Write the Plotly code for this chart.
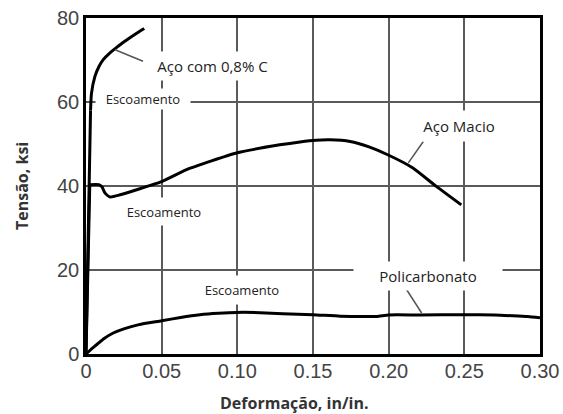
import plotly.graph_objects as go

# Stress-strain curves (strain in in/in., stress in ksi)
steel08_strain = [0, 0.003, 0.0036, 0.0059, 0.0085, 0.0114, 0.0155, 0.0203, 0.025, 0.029, 0.034, 0.0385]
steel08_stress = [0, 58.0, 62.0, 66.1, 68.4, 70.1, 71.6, 73.0, 74.3, 75.3, 76.5, 77.5]

mild_strain = [0, 0.0025, 0.0085, 0.0105, 0.0126, 0.0159, 0.0225, 0.0335, 0.049, 0.0665,
               0.1, 0.128, 0.1414, 0.152, 0.161, 0.1745, 0.187, 0.199, 0.216, 0.2315, 0.248]
mild_stress = [0, 40.3, 40.3, 39.8, 38.3, 37.4, 37.9, 39.1, 40.9, 43.9,
               47.9, 49.8, 50.5, 50.9, 51.0, 50.6, 49.3, 47.5, 44.3, 39.9, 35.5]

pc_strain = [0, 0.003, 0.007, 0.012, 0.018, 0.025, 0.035, 0.05, 0.0625, 0.0753, 0.0875, 0.0996,
             0.115, 0.13, 0.15, 0.168, 0.18, 0.192, 0.2, 0.22, 0.25, 0.27, 0.282, 0.292, 0.30]
pc_stress = [0, 1.0, 2.2, 3.7, 5.0, 6.0, 7.0, 7.9, 8.7, 9.35, 9.7, 9.9,
             9.85, 9.6, 9.35, 9.0, 8.95, 8.95, 9.3, 9.3, 9.35, 9.3, 9.1, 8.9, 8.6]

x_ticks = [0, 0.05, 0.10, 0.15, 0.20, 0.25, 0.30]
x_tick_labels = ["0", "0.05", "0.10", "0.15", "0.20", "0.25", "0.30"]
y_ticks = [0, 20, 40, 60, 80]
y_tick_labels = ["0", "20", "40", "60", "80"]

fig = go.Figure()


def add_curve(xs, ys, n_elastic):
    """Straight elastic segment followed by a smooth plastic segment."""
    if n_elastic:
        fig.add_trace(go.Scatter(x=xs[:n_elastic + 1], y=ys[:n_elastic + 1], mode="lines",
                                 line=dict(color="black", width=3),
                                 showlegend=False, hoverinfo="skip"))
    fig.add_trace(go.Scatter(x=xs[n_elastic:], y=ys[n_elastic:], mode="lines",
                             line=dict(color="black", width=3, shape="spline", smoothing=0.5),
                             showlegend=False, hoverinfo="skip"))


add_curve(steel08_strain, steel08_stress, 1)
add_curve(mild_strain, mild_stress, 1)
add_curve(pc_strain, pc_stress, 0)

main_font = dict(family="Open Sans", size=15, color="#222")
small_font = dict(family="Open Sans", size=13, color="#222")

# text labels on white boxes that interrupt the grid
labels = [
    ("Aço com 0,8% C", 0.0837, 68.6, 125, 28, main_font),
    ("Escoamento", 0.0375, 60.8, 94, 20, small_font),
    ("Escoamento", 0.0515, 33.9, 80, 27, small_font),
    ("Escoamento", 0.103, 15.3, 82, 28, small_font),
    ("Aço Macio", 0.2465, 54.3, 80, 30, main_font),
    ("Policarbonato", 0.226, 18.6, 148, 28, main_font),
]
for text, x, y, w, h, f in labels:
    fig.add_annotation(x=x, y=y, xref="x", yref="y", text=text, showarrow=False,
                       font=f, bgcolor="white", width=w, height=h,
                       borderpad=0, align="center", valign="middle")

# leader lines from labels to curves
leaders = [
    (0.0192, 72.45, 0.0377, 69.7),
    (0.2229, 50.6, 0.213, 45.5),
    (0.2119, 15.3, 0.2218, 9.76),
]
for x0, y0, x1, y1 in leaders:
    fig.add_shape(type="line", x0=x0, y0=y0, x1=x1, y1=y1, xref="x", yref="y",
                  line=dict(color="#555", width=1.5))

# axis titles
title_font = dict(family="Open Sans", size=16, color="#333")
fig.add_annotation(text="<b>Deformação, in/in.</b>", xref="paper", yref="paper",
                   x=0.46, y=0, yshift=-49, showarrow=False, font=title_font,
                   xanchor="center", yanchor="middle")
fig.add_annotation(text="<b>Tensão, ksi</b>", xref="paper", yref="paper",
                   x=0, y=0.5, xshift=-64, textangle=-90, showarrow=False,
                   font=title_font, xanchor="center", yanchor="middle")

axis_common = dict(
    showgrid=True, gridcolor="#5a5a5a", gridwidth=2,
    showline=True, linecolor="black", linewidth=2.5, mirror=True,
    zeroline=False, ticks="", automargin=False,
    tickfont=dict(family="Liberation Sans", size=20, color="#444"),
)

fig.update_xaxes(range=[0, 0.30], tickvals=x_ticks, ticktext=x_tick_labels,
                 ticklabelstandoff=-3, **axis_common)
fig.update_yaxes(range=[0, 80], tickvals=y_ticks, ticktext=y_tick_labels, **axis_common)

fig.update_layout(
    width=563, height=414,
    margin=dict(l=86, r=23, t=18, b=60),
    paper_bgcolor="white", plot_bgcolor="white",
)

fig.write_html("out.html")
